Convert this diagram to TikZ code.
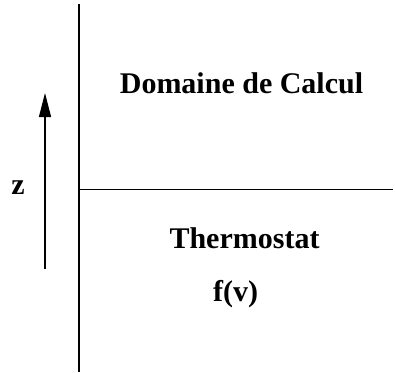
\documentclass[tikz,border=0pt]{standalone}
\usepackage{fontspec}
\setmainfont{Liberation Serif}
\usetikzlibrary{arrows.meta}

\begin{document}
\begin{tikzpicture}[
  x=1pt, y=-1pt,
  label/.style={anchor=base, inner sep=0pt, font=\fontsize{30}{36}\selectfont\bfseries},
  wallline/.style={black, line width=1.2pt},
  interface/.style={black, line width=1pt},
  axis/.style={-{Triangle[length=24pt, width=12pt]}, black, line width=1.2pt},
]
  \useasboundingbox (0,0) rectangle (395,372);

  % walls and interface
  \coordinate (top) at (79,4);
  \coordinate (bot) at (79,372);
  \coordinate (left) at (79,189);
  \coordinate (right) at (393,189);
  \draw[wallline] (top) -- (bot);
  \draw[interface] (left) -- (right);

  % z axis
  \coordinate (zlow) at (45,269);
  \coordinate (zhigh) at (45,93);
  \draw[axis] (zlow) -- (zhigh);
  \node[label] (z) at (18,194) {z};

  % regions
  \node[label] (domain) at (241.5,93) {Domaine de Calcul};
  \node[label] (thermo) at (244.5,248) {Thermostat};
  \node[label] (fv) at (235.5,301) {f(v)};
\end{tikzpicture}
\end{document}
